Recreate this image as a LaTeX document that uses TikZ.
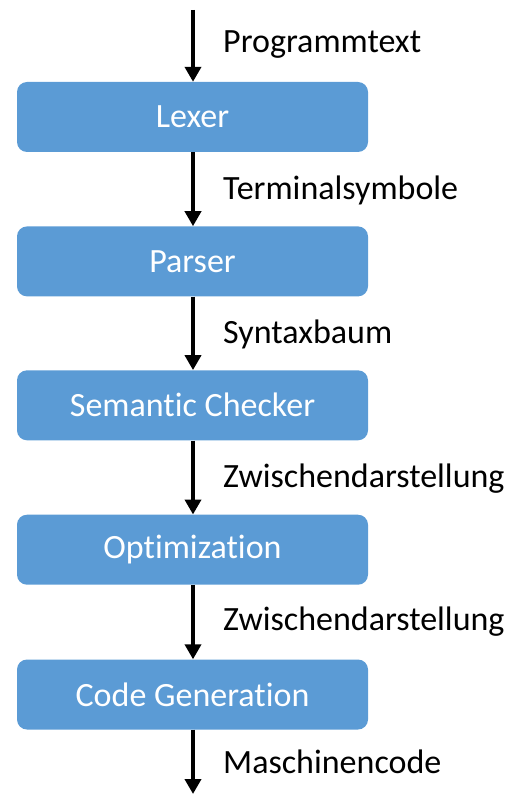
\documentclass[tikz,border=0pt]{standalone}
\usepackage{fontspec}
\setmainfont{Carlito}[Ligatures=NoCommon]
\usetikzlibrary{arrows.meta}
\definecolor{boxblue}{HTML}{5B9BD5}
\begin{document}
\begin{tikzpicture}[x=1pt,y=-1pt,
  stage/.style={fill=boxblue, draw=none, rounded corners=10pt, minimum width=351pt, minimum height=70pt, inner sep=0pt, text=white, font=\fontsize{34}{40}\selectfont},
  flow/.style={line width=4.5pt, -{Triangle[width=16pt,length=15pt]}},
  lbl/.style={anchor=base west, inner sep=0pt, font=\fontsize{34}{40}\selectfont}]
\useasboundingbox (0,0) rectangle (521,802);
\node[stage] (lexer) at (192.5,117) {Lexer};
\node[stage] (parser) at (192.5,261.4) {Parser};
\node[stage] (sem) at (192.5,405.3) {Semantic Checker};
\node[stage] (opt) at (192.5,549.7) {Optimization};
\node[stage] (gen) at (192.5,694.5) {Code Generation};
\coordinate (start) at (193,10);
\coordinate (finish) at (193,794);
\draw[flow] (start) -- (lexer.north -| start);
\draw[flow] (lexer.south -| start) -- (parser.north -| start);
\draw[flow] (parser.south -| start) -- (sem.north -| start);
\draw[flow] (sem.south -| start) -- (opt.north -| start);
\draw[flow] (opt.south -| start) -- (gen.north -| start);
\draw[flow] (gen.south -| start) -- (finish);
\node[lbl] (l1) at (223,53) {Programmtext};
\node[lbl] (l2) at (223,200) {Terminalsymbole};
\node[lbl] (l3) at (223,343) {Syntaxbaum};
\node[lbl] (l4) at (223,487) {Zwischendarstellung};
\node[lbl] (l5) at (223,630) {Zwischendarstellung};
\node[lbl] (l6) at (223,773) {Maschinencode};
\end{tikzpicture}
\end{document}
